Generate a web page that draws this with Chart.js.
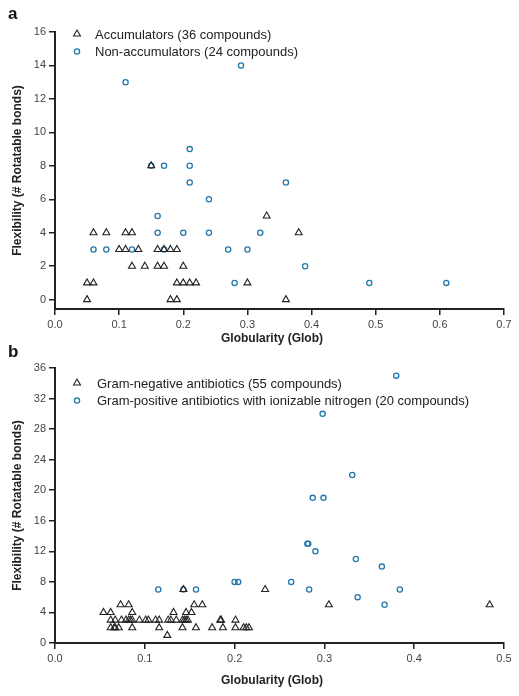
<!DOCTYPE html>
<html>
<head>
<meta charset="utf-8">
<script src="https://cdn.jsdelivr.net/npm/chart.js@4"></script>
<style>
  body { margin: 0; background: #fff; }
  .panel { position: absolute; left: 0; width: 519px; }
  #wrapA { top: 0; height: 348px; }
  #wrapB { top: 338px; height: 358px; }
</style>
</head>
<body>
<div class="panel" id="wrapA"><canvas id="chartA" width="519" height="348"></canvas></div>
<div class="panel" id="wrapB"><canvas id="chartB" width="519" height="358"></canvas></div>
<script>
// panel a : accumulators vs non-accumulators
const accX = [0.05, 0.05, 0.06, 0.06, 0.08, 0.10, 0.11, 0.13, 0.11, 0.12, 0.12, 0.14, 0.15, 0.16, 0.17,
              0.18, 0.19, 0.16, 0.17, 0.18, 0.19, 0.20, 0.19, 0.20, 0.21, 0.22, 0.30, 0.33, 0.36, 0.38];
const accY = [0, 1, 1, 4, 4, 3, 3, 3, 4, 4, 2, 2, 8, 3, 3,
              3, 3, 2, 2, 0, 0, 2, 1, 1, 1, 1, 1, 5, 0, 4];
const nonX = [0.11, 0.29, 0.06, 0.08, 0.12, 0.15, 0.17, 0.21, 0.21, 0.21, 0.16, 0.16,
              0.17, 0.20, 0.24, 0.24, 0.27, 0.28, 0.30, 0.32, 0.36, 0.39, 0.49, 0.61];
const nonY = [13, 14, 3, 3, 3, 8, 8, 9, 8, 7, 5, 4,
              3, 4, 6, 4, 3, 1, 3, 4, 7, 2, 1, 1];
const ticksA = [0, 2, 4, 6, 8, 10, 12, 14, 16];

// panel b : gram-negative vs gram-positive
const gnX = [0.073, 0.082, 0.155, 0.164, 0.305, 0.484,
             0.054, 0.062, 0.086, 0.132, 0.146, 0.152,
             0.062, 0.067, 0.074, 0.079, 0.082, 0.084, 0.086, 0.094, 0.101, 0.104, 0.112,
             0.116, 0.126, 0.129, 0.135, 0.142, 0.144, 0.146, 0.148, 0.184, 0.185, 0.201,
             0.062, 0.066, 0.067, 0.071, 0.086, 0.116, 0.142, 0.157, 0.175, 0.187, 0.201,
             0.210, 0.213, 0.216,
             0.125, 0.143, 0.234];
const gnY = [5, 5, 5, 5, 5, 5,
             4, 4, 4, 4, 4, 4,
             3, 3, 3, 3, 3, 3, 3, 3, 3, 3, 3,
             3, 3, 3, 3, 3, 3, 3, 3, 3, 3, 3,
             2, 2, 2, 2, 2, 2, 2, 2, 2, 2, 2,
             2, 2, 2,
             1, 7, 7];
const gpX = [0.380, 0.298, 0.331, 0.287, 0.299, 0.281, 0.282, 0.290, 0.335, 0.364,
             0.200, 0.204, 0.263, 0.283, 0.384, 0.337, 0.367, 0.115, 0.143, 0.157];
const gpY = [35, 30, 22, 19, 19, 13, 13, 12, 11, 10,
             8, 8, 8, 7, 7, 6, 5, 7, 7, 7];
const ticksB = [0, 4, 8, 12, 16, 20, 24, 28, 32, 36];

const BLUE = '#2478ac';
const DARK = '#222222';
const FONT = "'Liberation Sans', Arial, sans-serif";

function pts(xs, ys) { return xs.map((x, i) => ({ x: x, y: ys[i] })); }

// draws panel letter, axis titles and the legend
const extras = {
  id: 'extras',
  afterDraw(chart, args, opts) {
    const ctx = chart.ctx;
    const ca = chart.chartArea;
    ctx.save();
    ctx.fillStyle = '#111';
    ctx.font = 'bold 17px ' + FONT;
    ctx.textBaseline = 'alphabetic';
    ctx.textAlign = 'left';
    ctx.fillText(opts.letter, 8, opts.letterY);

    ctx.font = 'bold 12px ' + FONT;
    ctx.fillStyle = '#222';
    ctx.textAlign = 'center';
    ctx.textBaseline = 'middle';
    ctx.fillText('Globularity (Glob)', 272, opts.xTitleY);
    ctx.save();
    ctx.translate(18, (ca.top + ca.bottom) / 2);
    ctx.rotate(-Math.PI / 2);
    ctx.fillText('Flexibility (# Rotatable bonds)', 0, 0);
    ctx.restore();

    // legend
    ctx.font = '13px ' + FONT;
    ctx.textAlign = 'left';
    chart.data.datasets.forEach((ds, i) => {
      const y = opts.legendY + i * 17.5;
      ctx.strokeStyle = ds.borderColor;
      ctx.fillStyle = 'rgba(0,0,0,0)';
      ctx.lineWidth = ds.borderWidth;
      Chart.helpers.drawPoint(ctx, { pointStyle: ds.pointStyle, radius: ds.pointRadius, borderWidth: ds.borderWidth }, 77, y);
      ctx.fillStyle = '#222';
      ctx.fillText(ds.label, opts.legendTextX, y + 1);
    });
    ctx.restore();
  }
};

function axisStyle() {
  return {
    grid: { display: true, drawOnChartArea: false, drawTicks: true, tickLength: 6, color: DARK, lineWidth: 1.5 },
    border: { display: true, color: DARK, width: 2 },
    ticks: { color: '#444', font: { family: FONT, size: 11 }, padding: 3 }
  };
}

function makeChart(id, sets, cfg) {
  const xAxis = axisStyle();
  xAxis.type = 'linear';
  xAxis.min = 0;
  xAxis.max = cfg.xMax;
  xAxis.ticks.stepSize = 0.1;
  xAxis.ticks.maxRotation = 0;
  xAxis.ticks.callback = v => v.toFixed(1);
  xAxis.afterFit = s => { s.height = cfg.xH; };

  const yAxis = axisStyle();
  yAxis.min = cfg.yMin;
  yAxis.max = cfg.yMax;
  yAxis.afterBuildTicks = s => { s.ticks = cfg.yTicks.map(v => ({ value: v })); };
  yAxis.afterFit = s => { s.width = 55; };

  return new Chart(document.getElementById(id), {
    type: 'scatter',
    data: {
      datasets: sets.map(d => ({
        label: d.label,
        data: d.data,
        pointStyle: d.style,
        pointRadius: d.r,
        pointHoverRadius: d.r,
        borderColor: d.color,
        backgroundColor: 'rgba(0,0,0,0)',
        borderWidth: d.bw
      }))
    },
    options: {
      responsive: false,
      devicePixelRatio: 1,
      animation: false,
      layout: { padding: { left: 0, right: 15, top: cfg.top, bottom: 0 } },
      scales: { x: xAxis, y: yAxis },
      plugins: {
        legend: { display: false },
        tooltip: { enabled: false },
        extras: cfg.extras
      }
    },
    plugins: [extras]
  });
}

makeChart('chartA', [
  { label: 'Accumulators (36 compounds)', data: pts(accX, accY), style: 'triangle', r: 4, color: DARK, bw: 1.1 },
  { label: 'Non-accumulators (24 compounds)', data: pts(nonX, nonY), style: 'circle', r: 2.6, color: BLUE, bw: 1.3 }
], {
  xMax: 0.7, yMin: -0.56, yMax: 16, yTicks: ticksA, top: 32, xH: 39,
  extras: { letter: 'a', letterY: 19, xTitleY: 339, legendY: 34, legendTextX: 95 }
});

makeChart('chartB', [
  { label: 'Gram-negative antibiotics (55 compounds)', data: pts(gnX, gnY), style: 'triangle', r: 4, color: DARK, bw: 1.1 },
  { label: 'Gram-positive antibiotics with ionizable nitrogen (20 compounds)', data: pts(gpX, gpY), style: 'circle', r: 2.6, color: BLUE, bw: 1.3 }
], {
  xMax: 0.5, yMin: 0, yMax: 36, yTicks: ticksB, top: 30, xH: 53,
  extras: { letter: 'b', letterY: 19, xTitleY: 343, legendY: 45, legendTextX: 97 }
});
</script>
</body>
</html>
